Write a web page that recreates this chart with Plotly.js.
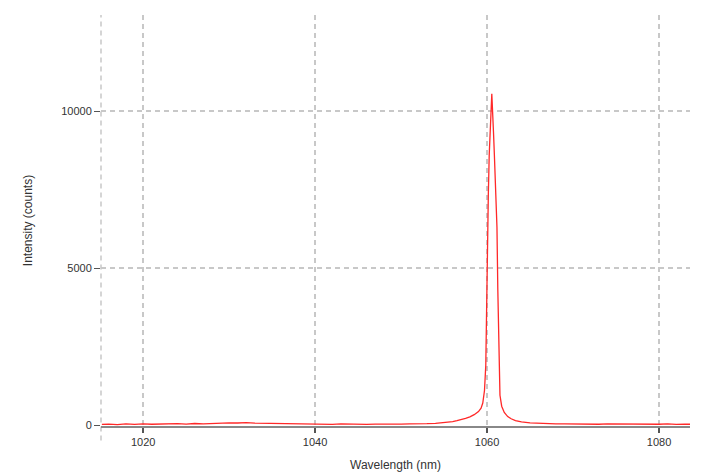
<!DOCTYPE html>
<html>
<head>
<meta charset="utf-8">
<script src="https://cdn.plot.ly/plotly-3.0.1.min.js"></script>
<style>html,body{margin:0;padding:0;background:#fff;}#chart{width:701px;height:475px;}</style>
</head>
<body>
<div id="chart"></div>
<script>
// Wavelength (nm)
const wavelength = [1015.2,1016,1017,1018,1019,1020,1021,1022,1023,1024,1025,1026,1027,1028,1029,1030,1031,1032,1033,1034,1035,1036,1037,1038,1039,1040,1041,1042,1043,1044,1045,1046,1047,1048,1049,1050,1051,1052,1053,1054,1055,1056,1056.5,1057,1057.5,1058,1058.5,1059,1059.3,1059.5,1059.7,1059.85,1059.95,1060.05,1060.15,1060.25,1060.35,1060.45,1060.55,1060.65,1060.75,1060.85,1060.95,1061.05,1061.15,1061.25,1061.35,1061.5,1061.7,1062,1062.4,1062.8,1063.3,1064,1065,1066,1067,1068,1069,1070,1071,1072,1073,1074,1075,1076,1077,1078,1079,1080,1081,1082,1083,1083.6];
// Intensity (counts)
const intensity = [20,30,15,35,20,40,25,35,30,45,30,50,40,55,60,70,65,75,60,55,40,30,25,35,20,30,25,20,35,25,30,20,30,25,35,30,40,35,45,55,75,110,140,170,210,260,330,430,540,700,1100,1900,4200,5600,7400,8600,9100,9900,10550,10100,9300,8600,7900,7200,6300,4300,2300,950,600,400,270,200,145,100,70,55,45,40,35,30,40,30,25,35,30,25,35,20,30,25,35,20,30,25];
const xTicks = [1020,1040,1060,1080];
const yTicks = [0,5000,10000];

const gridColor = '#c8c8c8';
const trace = {
  x: wavelength, y: intensity, type: 'scatter', mode: 'lines',
  line: {color: 'rgb(255,40,40)', width: 1.3},
  hoverinfo: 'skip', showlegend: false
};
const layout = {
  width: 701, height: 475,
  margin: {l: 101, r: 11, t: 15, b: 49},
  paper_bgcolor: '#fff', plot_bgcolor: '#fff',
  font: {family: '"Liberation Sans", Arial, sans-serif', size: 11, color: '#333'},
  xaxis: {
    range: [1015.1, 1083.6], tickvals: xTicks, ticktext: xTicks.map(String),
    showgrid: true, gridcolor: gridColor, griddash: '5px,4px', gridwidth: 1.3,
    zeroline: false, showline: true, linecolor: '#888', linewidth: 1.5,
    ticks: 'outside', ticklen: 5, tickcolor: '#555', tickwidth: 1.5,
    tickfont: {size: 11, color: '#333'},
    title: {text: 'Wavelength (nm)', font: {size: 12, color: '#333'}, standoff: 14}
  },
  yaxis: {
    range: [-30, 13060], tickvals: yTicks, ticktext: yTicks.map(String),
    showgrid: true, gridcolor: gridColor, griddash: '5px,4px', gridwidth: 1.3,
    zeroline: false, showline: false,
    ticks: 'outside', ticklen: 6, tickcolor: '#555', tickwidth: 1,
    tickfont: {size: 11, color: '#333'},
    title: {text: 'Intensity (counts)', font: {size: 12, color: '#333'}, standoff: 26}
  },
  shapes: [
    {type: 'line', xref: 'paper', yref: 'paper', x0: 0, x1: 0, y0: -0.035, y1: 1,
     line: {color: gridColor, width: 1.5, dash: '5px,4px'}, layer: 'below'}
  ]
};
Plotly.newPlot('chart', [trace], layout, {staticPlot: true, displayModeBar: false});
</script>
</body>
</html>
